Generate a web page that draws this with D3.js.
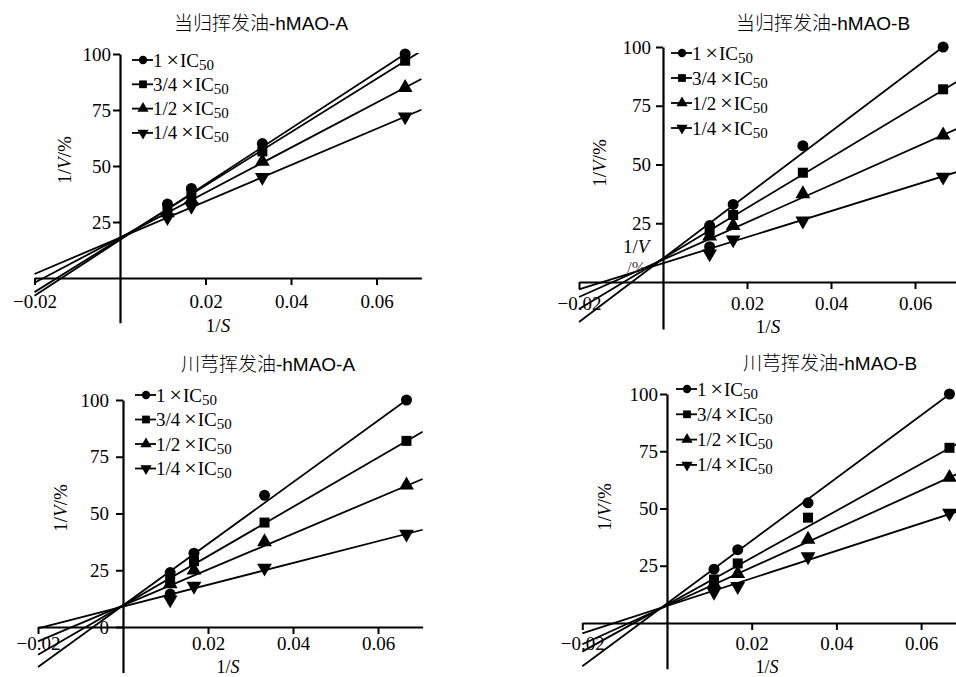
<!DOCTYPE html>
<html>
<head>
<meta charset="utf-8">
<script src="https://cdn.jsdelivr.net/npm/d3@7"></script>
<style>
  html, body { margin: 0; padding: 0; background: #fff; }
  svg { display: block; }
</style>
</head>
<body>
<svg id="chart" width="956" height="677"></svg>
<script>
// ---------------- data ----------------
const xValues = [0.0111, 0.0167, 0.0333, 0.0667];          // 1/S
const seriesPrefix = ["1", "3/4", "1/2", "1/4"];            // × IC50
const xTicks = [-0.02, 0.02, 0.04, 0.06];
const yTicks = [25, 50, 75, 100];
const yTicksWithZero = [0, 25, 50, 75, 100];
const titles = ["当归挥发油-hMAO-A", "当归挥发油-hMAO-B", "川芎挥发油-hMAO-A", "川芎挥发油-hMAO-B"];

// observed 1/V values (rows: 1, 3/4, 1/2, 1/4 × IC50)
const p1Values = [[33, 40, 60, 100], [31, 37.5, 56.5, 97], [29, 35, 52, 85], [27, 32, 45, 72]];
const p2Values = [[24, 33, 58, 100], [22, 28.5, 46.5, 82], [19.5, 24, 37.5, 62.5], [12, 18, 26, 44.7]];
const p3Values = [[24, 32.5, 58, 100], [21, 29, 46, 82], [19, 25, 37.5, 62.5], [12, 18, 26, 41]];
const p4Values = [[23.5, 32, 52.5, 100], [19, 26, 46, 76.5], [17, 21.5, 36.5, 63.5], [13.5, 16, 29, 48]];

// fitted lines: [intercept, slope]
const p1Fit = [[17, 1245], [17.5, 1190], [18, 1005], [18, 810]];
const p2Fit = [[10, 1350], [10, 1075], [9.5, 795], [8, 555]];
const p3Fit = [[9.5, 1357], [9.5, 1085], [9.5, 790], [9, 480]];
const p4Fit = [[8.5, 1370], [8, 1025], [7.5, 840], [7.5, 600]];

// extra circle markers seen below the stacks
const p2Extra = [[0.0111, 15]];
const p3Extra = [[0.0111, 14.5]];

// ---------------- layout ----------------
const xDomain = [-0.02, 0.0705];
const yDomain = [-20, 100];
const panels = [
  { title: titles[0], values: p1Values, fit: p1Fit, extra: [], yt: yTicks,
    x0: 120, kx: 4275, y0: 278, ky: 2.24, titleX: 261, titleY: 30,
    ylabX: 71, ylabY: 160, xlabX: 218, xlabY: 332, xlabSize: 19, legX: 132, legY: 60, legDy: 24.3,
    ypad: 2, xpad: 10 },
  { title: titles[1], values: p2Values, fit: p2Fit, extra: p2Extra, yt: yTicks,
    x0: 663, kx: 4200, y0: 282, ky: 2.35, titleX: 823, titleY: 30,
    ylabX: 606, ylabY: 163, xlabX: 768, xlabY: 333, xlabSize: 19, legX: 671, legY: 53, legDy: 25,
    ypad: 5, xpad: 8, artifact: true },
  { title: titles[2], values: p3Values, fit: p3Fit, extra: p3Extra, yt: yTicksWithZero,
    x0: 123, kx: 4250, y0: 627, ky: 2.27, titleX: 268, titleY: 371,
    ylabX: 67, ylabY: 508, xlabX: 228, xlabY: 673, xlabSize: 18, legX: 135, legY: 395, legDy: 24.5,
    ypad: 7, xpad: 3 },
  { title: titles[3], values: p4Values, fit: p4Fit, extra: [], yt: yTicks,
    x0: 667, kx: 4235, y0: 623, ky: 2.29, titleX: 830, titleY: 370,
    ylabX: 611, ylabY: 507, xlabX: 767, xlabY: 673, xlabSize: 18, legX: 676, legY: 389, legDy: 25.3,
    ypad: 2, xpad: 7 }
];

const symTypes = [d3.symbolCircle, d3.symbolSquare, d3.symbolTriangle, d3.symbolTriangle];
const symSizes = [95, 100, 95, 95];
const legSizes = [55, 60, 55, 55];
const symRot = [0, 0, 0, 180];

const svg = d3.select("#chart");
const serif = "Liberation Serif, Times New Roman, serif";

panels.forEach((p, pi) => {
  const x = d3.scaleLinear().domain(xDomain)
    .range([p.x0 + xDomain[0] * p.kx, p.x0 + xDomain[1] * p.kx]);
  const y = d3.scaleLinear().domain(yDomain)
    .range([p.y0 - yDomain[0] * p.ky, p.y0 - yDomain[1] * p.ky]);

  const g = svg.append("g");

  // clip for fitted lines
  const clipId = "clip" + pi;
  g.append("clipPath").attr("id", clipId).append("rect")
    .attr("x", x(xDomain[0]) - 2).attr("y", y(100.5))
    .attr("width", x(xDomain[1]) - x(xDomain[0]) + 4)
    .attr("height", y(yDomain[0]) - y(100.5));

  // axes
  const xAxis = d3.axisBottom(x).tickValues(xTicks).tickFormat(d3.format(".2f"))
    .tickSizeOuter(0).tickSizeInner(7).tickPadding(p.xpad);
  const yAxis = d3.axisLeft(y).tickValues(p.yt).tickFormat(d3.format("d"))
    .tickSizeOuter(0).tickSizeInner(7).tickPadding(p.ypad);

  const gx = g.append("g").attr("transform", `translate(0,${y(0)})`).call(xAxis);
  const gy = g.append("g").attr("transform", `translate(${x(0)},0)`).call(yAxis);
  [gx, gy].forEach(a => {
    a.attr("font-family", serif).attr("font-size", 19);
    a.select(".domain").attr("stroke", "#000").attr("stroke-width", 2.2);
    a.selectAll(".tick line").attr("stroke", "#000").attr("stroke-width", 2);
    a.selectAll(".tick text").attr("fill", "#000")
      .attr("font-family", serif).attr("font-size", 19);
  });

  // fitted lines
  const line = d3.line().x(d => x(d[0])).y(d => y(d[1]));
  g.append("g").attr("clip-path", `url(#${clipId})`)
    .selectAll("path").data(p.fit).join("path")
    .attr("d", f => line([[xDomain[0], f[0] + f[1] * xDomain[0]],
                          [xDomain[1], f[0] + f[1] * xDomain[1]]]))
    .attr("fill", "none").attr("stroke", "#000").attr("stroke-width", 1.8);

  // markers
  p.values.forEach((vals, si) => {
    const sym = d3.symbol().type(symTypes[si]).size(symSizes[si]);
    g.append("g").selectAll("path").data(vals).join("path")
      .attr("d", sym)
      .attr("transform", (d, i) => `translate(${x(xValues[i])},${y(d)}) rotate(${symRot[si]})`)
      .attr("fill", "#000");
  });
  const circ = d3.symbol().type(d3.symbolCircle).size(symSizes[0]);
  g.append("g").selectAll("path").data(p.extra).join("path")
    .attr("d", circ)
    .attr("transform", d => `translate(${x(d[0])},${y(d[1])})`)
    .attr("fill", "#000");

  // title
  g.append("text").attr("x", p.titleX).attr("y", p.titleY)
    .attr("text-anchor", "middle")
    .attr("font-family", "Liberation Sans, Noto Sans CJK SC, sans-serif")
    .attr("font-size", 19).attr("font-weight", 300)
    .text(p.title);

  // y label 1/V/%
  const yl = g.append("text")
    .attr("transform", `translate(${p.ylabX},${p.ylabY}) rotate(-90)`)
    .attr("text-anchor", "middle")
    .attr("font-family", serif).attr("font-size", 19);
  yl.append("tspan").text("1/");
  yl.append("tspan").attr("font-style", "italic").text("V");
  yl.append("tspan").text("/%");

  // x label 1/S
  const xl = g.append("text").attr("x", p.xlabX).attr("y", p.xlabY)
    .attr("text-anchor", "middle")
    .attr("font-family", serif).attr("font-size", p.xlabSize);
  xl.append("tspan").text("1/");
  xl.append("tspan").attr("font-style", "italic").text("S");

  // legend
  seriesPrefix.forEach((pre, si) => {
    const ly = p.legY + si * p.legDy;
    const lg = g.append("g");
    lg.append("line").attr("x1", p.legX).attr("x2", p.legX + 21)
      .attr("y1", ly).attr("y2", ly).attr("stroke", "#000").attr("stroke-width", 1.8);
    lg.append("path")
      .attr("d", d3.symbol().type(symTypes[si]).size(legSizes[si]))
      .attr("transform", `translate(${p.legX + 11},${ly}) rotate(${symRot[si]})`)
      .attr("fill", "#000");
    const t = lg.append("text").attr("x", p.legX + 21).attr("y", ly + 6.5)
      .attr("font-family", serif).attr("font-size", 19);
    t.append("tspan").text(pre);
    t.append("tspan").attr("dx", 4).attr("font-size", 22).text("×");
    t.append("tspan").attr("dx", 1).text("IC");
    t.append("tspan").attr("dy", 3).attr("font-size", 15).text("50");
  });

  // stray text near origin in panel 2
  if (p.artifact) {
    const a1 = g.append("text").attr("x", 623).attr("y", 253)
      .attr("font-family", serif).attr("font-size", 19);
    a1.append("tspan").text("1/");
    a1.append("tspan").attr("font-style", "italic").text("V");
    g.append("text").attr("x", 627).attr("y", 273)
      .attr("font-family", serif).attr("font-size", 17).attr("fill", "#444")
      .text("/%");
  }
});
</script>
</body>
</html>
